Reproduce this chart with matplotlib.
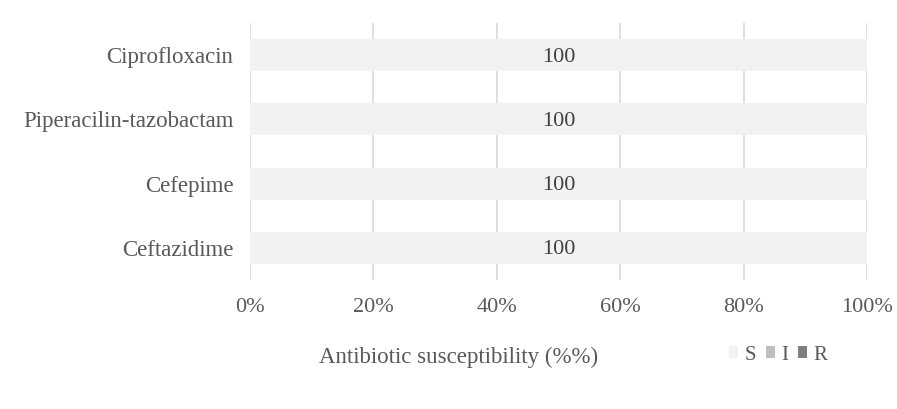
import matplotlib
matplotlib.use("Agg")
import matplotlib.pyplot as plt
import numpy as np

categories = ["Ciprofloxacin", "Piperacilin-tazobactam", "Cefepime", "Ceftazidime"]
S = [100, 100, 100, 100]
I = [0, 0, 0, 0]
R = [0, 0, 0, 0]
xticks = [0, 20, 40, 60, 80, 100]
xticklabels = ["0%", "20%", "40%", "60%", "80%", "100%"]

plt.rcParams['font.family'] = ['Liberation Serif', 'DejaVu Serif']
txt = '#595959'

fig = plt.figure(figsize=(8.97, 4.09), dpi=100)
ax = fig.add_axes([250/897, 1-280/409, 617/897, 257/409])

y = np.arange(len(categories))
cS, cI, cR = '#f2f2f2', '#bfbfbf', '#7f7f7f'
ax.barh(y, S, height=0.5, color=cS, label='S', zorder=2)
left = np.array(S)
ax.barh(y, I, left=left, height=0.5, color=cI, label='I', zorder=2)
left = left + np.array(I)
ax.barh(y, R, left=left, height=0.5, color=cR, label='R', zorder=2)

for yi, v in zip(y, S):
    ax.text(v / 2, yi + 0.03, f"{v}", ha='center', va='center', fontsize=16, color='#404040', zorder=3)

ax.set_xlim(0, 100)
ax.set_ylim(3.5, -0.5)
ax.set_yticks(y)
ax.set_yticklabels(categories, fontsize=16.5, color=txt)
ax.set_xticks(xticks)
ax.set_xticklabels(xticklabels, fontsize=16, color=txt)
ax.tick_params(axis='both', length=0)
ax.tick_params(axis='y', pad=12)
ax.tick_params(axis='x', pad=13)
for s in ax.spines.values():
    s.set_visible(False)
ax.grid(axis='x', color='#d9d9d9', linewidth=1.2, zorder=1)
ax.set_axisbelow(True)

fig.text(459/897, 1-357/409, "Antibiotic susceptibility (%%)", ha='center', va='center', fontsize=16.5, color=txt)

leg = fig.legend(loc='center', bbox_to_anchor=(778/897, 1-355/409), ncol=3, frameon=False,
                 fontsize=15, handlelength=0.45, handleheight=0.45, handletextpad=0.3,
                 columnspacing=0.45, labelcolor=txt)

fig.savefig("out.png", dpi=100)
